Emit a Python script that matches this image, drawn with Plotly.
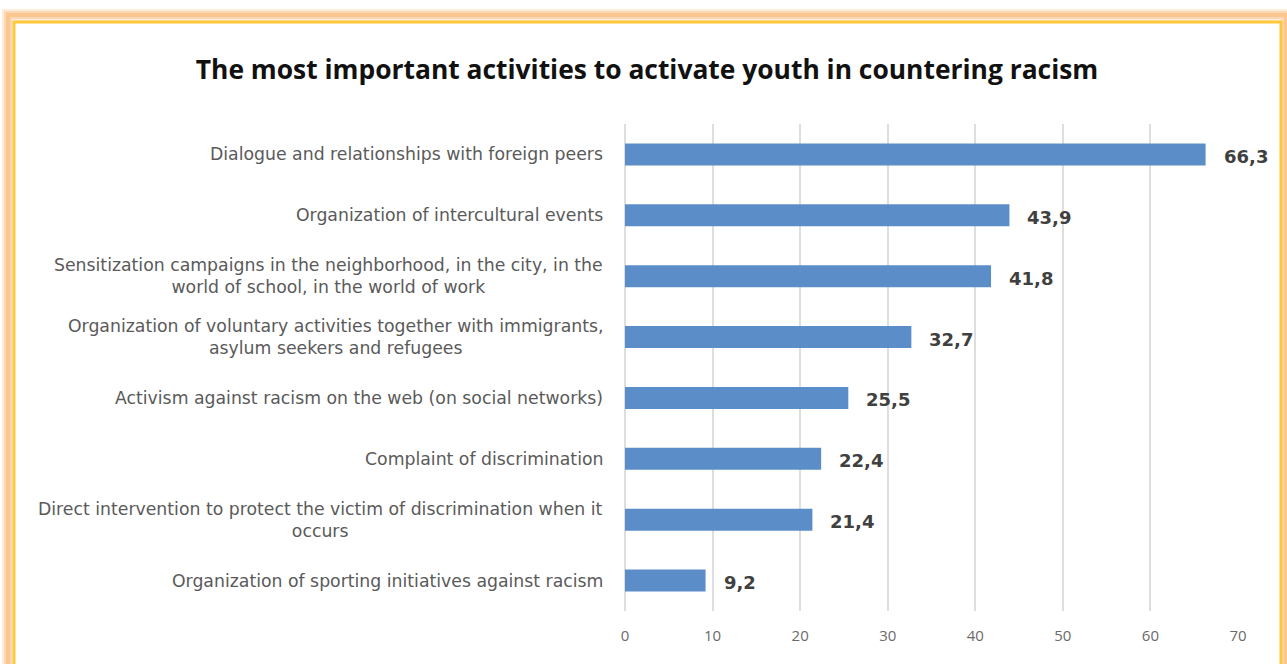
import plotly.graph_objects as go

# Survey results: share of respondents (%) per activity
activities = [
    "Dialogue and relationships with foreign peers",
    "Organization of intercultural events",
    "Sensitization campaigns in the neighborhood, in the city, in the<br>world of school, in the world of work",
    "Organization of voluntary activities together with immigrants,<br>asylum seekers and refugees",
    "Activism against racism on the web (on social networks)",
    "Complaint of discrimination",
    "Direct intervention to protect the victim of discrimination when it<br>occurs",
    "Organization of sporting initiatives against racism",
]
shares = [66.3, 43.9, 41.8, 32.7, 25.5, 22.4, 21.4, 9.2]
x_ticks = [0, 10, 20, 30, 40, 50, 60, 70]

FONT = "'Open Sans', Lato, sans-serif"
WIDE = "'DejaVu Sans', 'Open Sans', sans-serif"

W, H = 1287, 664
L, R, T, B = 625, 49, 124, 53
PW, PH = W - L - R, H - T - B


def px_x(px):
    return (px - L) / PW


def px_y(py):
    return (H - B - py) / PH


cat_ids = list(range(len(activities)))

fig = go.Figure()
fig.add_trace(go.Bar(
    x=shares,
    y=cat_ids,
    orientation="h",
    width=0.36,
    marker=dict(color="#5B8EC8", line=dict(width=0)),
    hoverinfo="skip",
))

annotations = []
# Category labels (wrapped lines centred, block right-aligned to the axis)
for i, lab in enumerate(activities):
    annotations.append(dict(
        x=0, xref="paper", y=i, yref="y",
        xanchor="right", yanchor="middle", xshift=-20,
        text=lab, showarrow=False, align="center",
        font=dict(family=WIDE, size=17.3, color="#5a5a5a"),
    ))
# Value labels
for i, v in enumerate(shares):
    annotations.append(dict(
        x=v, xref="x", y=i, yref="y",
        xanchor="left", yanchor="middle", xshift=16, yshift=-2,
        text=f"<b>{v:.1f}</b>".replace(".", ","), showarrow=False,
        font=dict(family=WIDE, size=18, color="#404040"),
    ))

shapes = []
# Soft orange glow around the frame
for w, op in [(12, 0.25), (8, 0.35), (4, 0.5)]:
    shapes.append(dict(
        type="rect", xref="paper", yref="paper",
        x0=px_x(8), x1=px_x(1286), y0=px_y(700), y1=px_y(15),
        line=dict(color=f"rgba(252,180,110,{op})", width=w),
        fillcolor="rgba(0,0,0,0)", layer="above",
    ))
# Yellow frame line
shapes.append(dict(
    type="rect", xref="paper", yref="paper",
    x0=px_x(14), x1=px_x(1281), y0=px_y(700), y1=px_y(22),
    line=dict(color="#FFC73A", width=3),
    fillcolor="rgba(0,0,0,0)", layer="above",
))

fig.update_layout(
    width=W, height=H,
    margin=dict(l=L, r=R, t=T, b=B, pad=0),
    paper_bgcolor="white", plot_bgcolor="white",
    showlegend=False,
    title=dict(
        text="<b>The most important activities to activate youth in countering racism</b>",
        x=(647) / W, xanchor="center", y=1 - 70 / H, yanchor="middle",
        font=dict(family=FONT, size=26.4, color="#111111"),
    ),
    xaxis=dict(
        range=[0, 70], tickvals=x_ticks, ticktext=[str(t) for t in x_ticks],
        showgrid=True, gridcolor="#dedede", gridwidth=1.5,
        zeroline=True, zerolinecolor="#dedede", zerolinewidth=1.5,
        showline=False, ticks="",
        ticklabelstandoff=14,
        tickfont=dict(family=FONT, size=15, color="#6a6a6a"),
        fixedrange=True,
    ),
    yaxis=dict(
        range=[len(activities) - 0.5, -0.5],
        showticklabels=False, showgrid=False, zeroline=False, showline=False,
        fixedrange=True,
    ),
    annotations=annotations,
    shapes=shapes,
)

fig.write_html("out.html")
